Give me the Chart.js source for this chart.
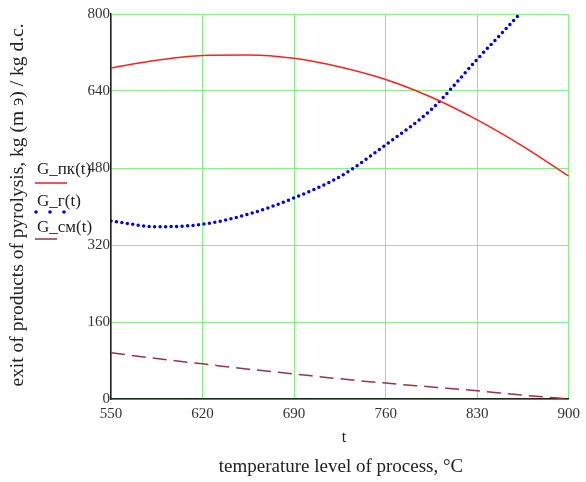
<!DOCTYPE html>
<html>
<head>
<meta charset="utf-8">
<script src="https://cdn.jsdelivr.net/npm/chart.js@4/dist/chart.umd.min.js"></script>
<style>
  html, body { margin: 0; padding: 0; background: #fff; }
  #wrap { width: 586px; height: 482px; }
</style>
</head>
<body>
<div id="wrap"><canvas id="chart"></canvas></div>
<script>
// temperature points, °C
const temps = [550, 585, 620, 655, 690, 725, 760, 795, 830, 865, 900];
// G_пк(t)
const gPk = [688, 704, 714, 715, 708, 690, 664, 627, 580, 525, 463];
// G_г(t)
const gG = [370, 358, 363, 384, 418, 462, 528, 602, 706, 808, 920];
// G_см(t)
const gSm = [96, 84, 73, 62, 52, 42, 33, 25, 17, 8, 0];

const xTicks = [550, 620, 690, 760, 830, 900];
const yTicks = [0, 160, 320, 480, 640, 800];

const serif = '"Liberation Serif", "DejaVu Serif", serif';

function pts(vals) {
  return temps.map((t, i) => ({ x: t, y: vals[i] }));
}

// titles and the side legend
const extras = {
  id: 'extras',
  afterDraw(chart) {
    const ctx = chart.ctx;
    ctx.save();
    ctx.fillStyle = '#222';
    ctx.textAlign = 'center';
    ctx.textBaseline = 'middle';

    ctx.font = '19px ' + serif;
    ctx.fillText('temperature level of process, °C', 341, 467);
    ctx.font = '16px ' + serif;
    ctx.fillText('t', 344, 438);

    ctx.save();
    ctx.translate(18, 205);
    ctx.rotate(-Math.PI / 2);
    ctx.font = '19.5px ' + serif;
    ctx.fillText('exit of products of pyrolysis, kg (m э) / kg d.c.', 0, 0);
    ctx.restore();

    ctx.textAlign = 'left';
    ctx.font = '17px ' + serif;
    ctx.fillText('G_пк(t)', 37, 170);
    ctx.fillText('G_г(t)', 37, 202);
    ctx.fillText('G_см(t)', 37, 228);

    ctx.lineWidth = 1.5;
    ctx.strokeStyle = '#e02020';
    ctx.beginPath(); ctx.moveTo(35, 183); ctx.lineTo(67, 183); ctx.stroke();
    ctx.strokeStyle = '#993344';
    ctx.beginPath(); ctx.moveTo(35, 239); ctx.lineTo(57, 239); ctx.stroke();
    ctx.fillStyle = '#0000ee';
    [36, 50, 64].forEach(x => { ctx.beginPath(); ctx.arc(x, 212, 1.8, 0, Math.PI * 2); ctx.fill(); });
    ctx.restore();
  }
};

new Chart(document.getElementById('chart'), {
  type: 'line',
  data: {
    datasets: [
      {
        label: 'G_пк(t)',
        data: pts(gPk),
        borderColor: '#ff2020',
        borderWidth: 1.5,
        pointRadius: 0,
        cubicInterpolationMode: 'monotone'
      },
      {
        label: 'G_г(t)',
        data: pts(gG),
        borderColor: '#0000ee',
        borderWidth: 3.5,
        borderDash: [0, 5.5],
        borderCapStyle: 'round',
        pointRadius: 0,
        cubicInterpolationMode: 'monotone'
      },
      {
        label: 'G_см(t)',
        data: pts(gSm),
        borderColor: '#993344',
        borderWidth: 1.5,
        borderDash: [14, 7],
        pointRadius: 0,
        cubicInterpolationMode: 'monotone'
      }
    ]
  },
  options: {
    responsive: true,
    maintainAspectRatio: false,
    animation: false,
    layout: { padding: { top: 14, right: 14, left: 0, bottom: 0 } },
    plugins: { legend: { display: false }, tooltip: { enabled: false } },
    scales: {
      x: {
        type: 'linear',
        min: 550,
        max: 900,
        afterBuildTicks: s => { s.ticks = xTicks.map(v => ({ value: v })); },
        afterFit: s => { s.height = 83; },
        grid: { color: '#88ee88', lineWidth: 1, drawTicks: false },
        border: { color: '#222', width: 1.5 },
        ticks: { color: '#333', font: { family: serif, size: 15 }, padding: 6, maxRotation: 0 }
      },
      y: {
        min: 0,
        max: 800,
        afterBuildTicks: s => { s.ticks = yTicks.map(v => ({ value: v })); },
        afterFit: s => { s.width = 111; },
        grid: { color: '#88ee88', lineWidth: 1, drawTicks: false },
        border: { color: '#222', width: 1.5 },
        ticks: { color: '#333', font: { family: serif, size: 15 }, padding: 1 }
      }
    }
  },
  plugins: [extras]
});
</script>
</body>
</html>
